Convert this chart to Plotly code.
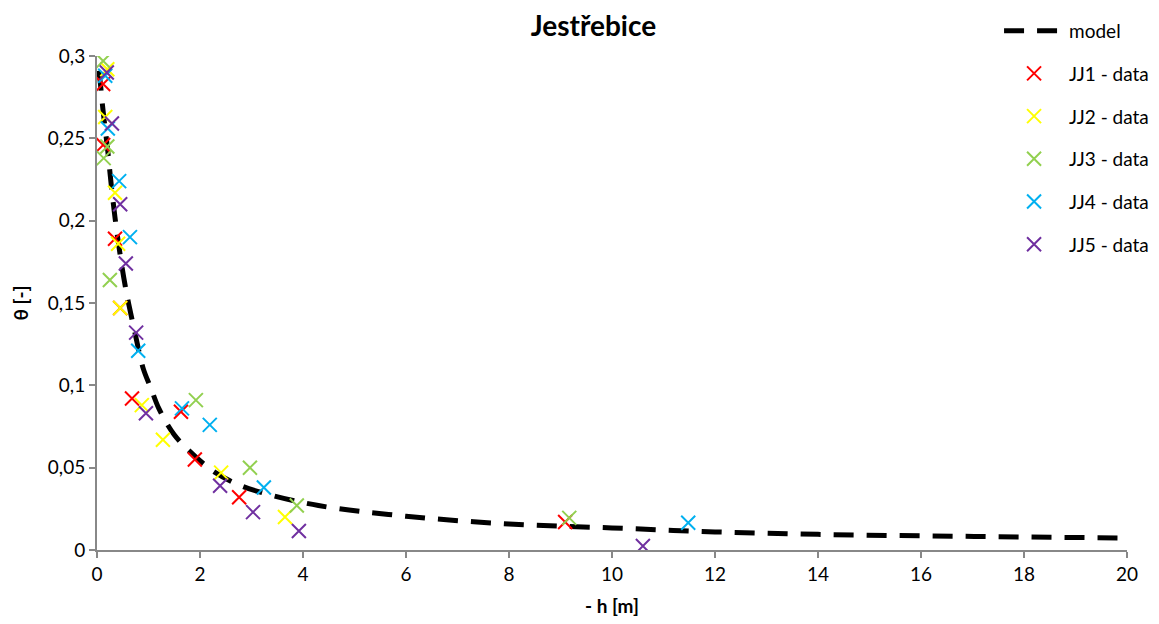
import plotly.graph_objects as go

# model curve
model_h = [0.03, 0.06, 0.1, 0.15, 0.2, 0.3, 0.4, 0.55, 0.75, 0.9, 1.05, 1.2, 1.5, 1.9, 2.3, 2.8, 3.3, 4.3,
           6, 8, 10, 12, 14, 16, 18, 20]
model_theta = [0.291, 0.285, 0.272, 0.258, 0.245, 0.215, 0.19, 0.16, 0.13, 0.11, 0.098, 0.086, 0.07, 0.057,
               0.047, 0.039, 0.034, 0.027, 0.0205, 0.0158, 0.0134, 0.011, 0.0095, 0.0086, 0.0079, 0.0073]

jj1_h = [0.12, 0.12, 0.35, 0.45, 0.68, 1.63, 1.9, 2.76, 9.09]
jj1_theta = [0.283, 0.246, 0.189, 0.147, 0.092, 0.084, 0.055, 0.032, 0.017]

jj2_h = [0.2, 0.16, 0.35, 0.41, 0.45, 0.87, 1.28, 2.41, 3.65]
jj2_theta = [0.292, 0.263, 0.217, 0.186, 0.147, 0.088, 0.067, 0.047, 0.020]

jj3_h = [0.12, 0.2, 0.13, 0.25, 1.92, 2.97, 3.88, 9.17]
jj3_theta = [0.297, 0.245, 0.238, 0.164, 0.091, 0.050, 0.027, 0.0195]

jj4_h = [0.16, 0.21, 0.43, 0.64, 0.80, 1.65, 2.19, 3.24, 11.48]
jj4_theta = [0.288, 0.256, 0.224, 0.190, 0.121, 0.086, 0.076, 0.038, 0.0165]

jj5_h = [0.19, 0.29, 0.45, 0.56, 0.76, 0.95, 2.39, 3.03, 3.92, 10.6]
jj5_theta = [0.290, 0.259, 0.210, 0.174, 0.132, 0.083, 0.039, 0.023, 0.0115, 0.0024]

series = [
    ("JJ1 - data", jj1_h, jj1_theta, "#FF0000"),
    ("JJ2 - data", jj2_h, jj2_theta, "#FFFF00"),
    ("JJ3 - data", jj3_h, jj3_theta, "#92D050"),
    ("JJ4 - data", jj4_h, jj4_theta, "#00B0F0"),
    ("JJ5 - data", jj5_h, jj5_theta, "#7030A0"),
]

FONT = "Lato, 'Open Sans', sans-serif"

fig = go.Figure()
fig.add_trace(go.Scatter(
    x=model_h, y=model_theta, mode="lines", name="model", legendgroup="m",
    line=dict(color="black", width=5, dash="20px,13px", shape="spline"),
))
for i, (name, xs, ys, col) in enumerate(series):
    fig.add_trace(go.Scatter(
        x=xs, y=ys, mode="markers", name=name, legendgroup=f"g{i}",
        marker=dict(symbol="x-thin", size=14, color=col, line=dict(color=col, width=2)),
    ))

fig.update_layout(
    width=1159, height=624,
    paper_bgcolor="white", plot_bgcolor="white",
    margin=dict(l=97, r=32, t=56, b=74, autoexpand=False),
    separators=", ",
    font=dict(family=FONT, size=19, color="black"),
    title=dict(text="<b>Jestřebice</b>", x=0.512, xanchor="center", y=0.958, yanchor="middle",
               font=dict(size=28, family=FONT)),
    showlegend=True,
    legend=dict(xref="container", yref="container", x=0.862, y=0.981, xanchor="left", yanchor="top",
                bgcolor="rgba(255,255,255,0)", font=dict(size=19),
                tracegroupgap=15, itemwidth=60),
    xaxis=dict(range=[0, 20], dtick=2, tick0=0, showgrid=False, zeroline=False,
               showline=True, linecolor="#888888", linewidth=2,
               ticks="outside", ticklen=6, tickcolor="#888888", tickwidth=2,
               title=dict(text="<b>- h [m]</b>", font=dict(size=19), standoff=16)),
    yaxis=dict(range=[0, 0.3], dtick=0.05, tick0=0, showgrid=False, zeroline=False,
               showline=True, linecolor="#888888", linewidth=2,
               ticks="outside", ticklen=6, tickcolor="#888888", tickwidth=2,
               tickformat="~g",
               title=dict(text="<b>θ [-]</b>", font=dict(size=19), standoff=14)),
)

fig.write_html("out.html")
